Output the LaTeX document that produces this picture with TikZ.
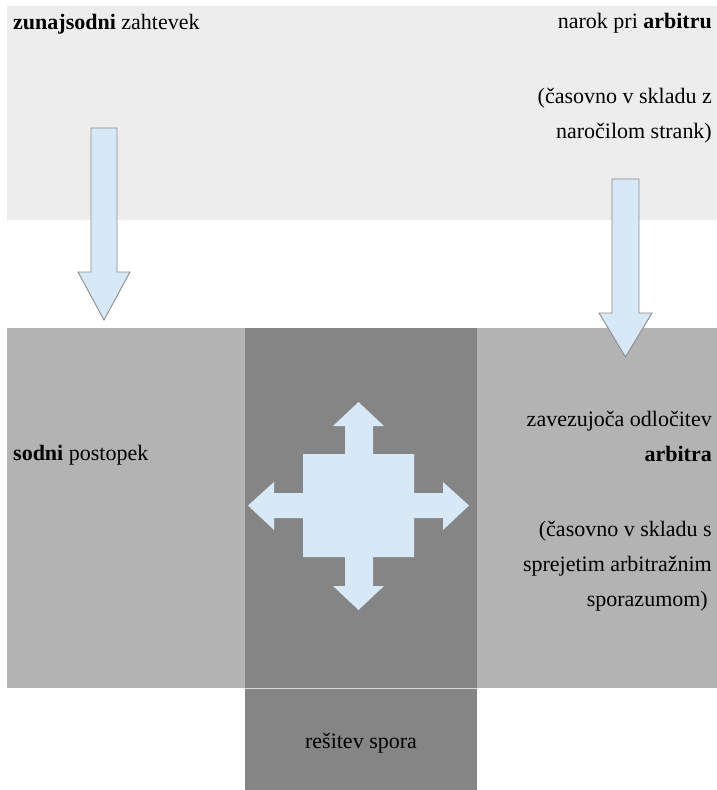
\documentclass[tikz,border=0pt]{standalone}
\usepackage{fontspec}
\setmainfont{Liberation Serif}
\usetikzlibrary{positioning}
\definecolor{bandgray}{HTML}{EDEDED}
\definecolor{sidegray}{HTML}{B3B3B3}
\definecolor{midgray}{HTML}{858585}
\definecolor{arrowblue}{HTML}{D7E8F6}
\definecolor{arrowline}{HTML}{8C8C8C}

\begin{document}
\begin{tikzpicture}[x=1pt, y=-1pt,
    area/.style={draw=none, inner sep=0, outer sep=0, anchor=north west},
    label/.style={inner sep=0, font=\fontsize{22}{35}\selectfont},
    blockarrow/.style={fill=arrowblue, draw=arrowline, line width=0.9pt, line join=miter}]

    \useasboundingbox (0,0) rectangle (717,790);

    % bands and boxes
    \node[area, fill=bandgray, minimum width=710pt, minimum height=214pt] (top) at (7,6) {};
    \node[area, fill=sidegray, minimum width=238pt, minimum height=360pt] (court) at (7,328) {};
    \node[area, fill=midgray, minimum width=232pt, minimum height=360pt] (middle) at (245,328) {};
    \node[area, fill=sidegray, minimum width=240pt, minimum height=360pt] (award) at (477,328) {};
    \node[area, fill=midgray, minimum width=232pt, minimum height=102pt] (solution) at (245,688) {};
    \draw[white!70!midgray, line width=0.6pt] (solution.north west) -- (solution.north east);

    % texts
    \node[label, anchor=north west] (claim) at (13,14) {\textbf{zunajsodni} zahtevek};
    \node[label, anchor=north east, align=right] (hearing) at (712,13)
        {narok pri \textbf{arbitru}\\[40pt](časovno v skladu z\\naročilom strank)};
    \node[label, anchor=west] (procedure) at (13,455) {\textbf{sodni} postopek};
    \node[label, anchor=north east, align=right] (decision) at (712,411)
        {zavezujoča odločitev\\\textbf{arbitra}\\[40pt](časovno v skladu s\\sprejetim arbitražnim\\sporazumom)\hspace*{4pt}};
    \node[label] (result) at (361,743) {rešitev spora};

    % block arrows
    \draw[blockarrow] (91,128) -- (117,128) -- (117,272) -- (130,272) -- (104,320)
        -- (78,272) -- (91,272) -- cycle;
    \draw[blockarrow] (612,179) -- (639,179) -- (639,313) -- (652,313) -- (625.5,357)
        -- (599,313) -- (612,313) -- cycle;

    % four-way arrow
    \fill[arrowblue] (358.5,402) -- (384,426) -- (373,426) -- (373,454) -- (414,454)
        -- (414,493) -- (443,493) -- (443,482) -- (469,505.5) -- (443,530) -- (443,518)
        -- (414,518) -- (414,557) -- (373,557) -- (373,586) -- (384,586) -- (358.5,610)
        -- (333,586) -- (345,586) -- (345,557) -- (303,557) -- (303,518) -- (274,518)
        -- (274,530) -- (248,505.5) -- (274,482) -- (274,493) -- (303,493) -- (303,454)
        -- (345,454) -- (345,426) -- (333,426) -- cycle;

\end{tikzpicture}
\end{document}
